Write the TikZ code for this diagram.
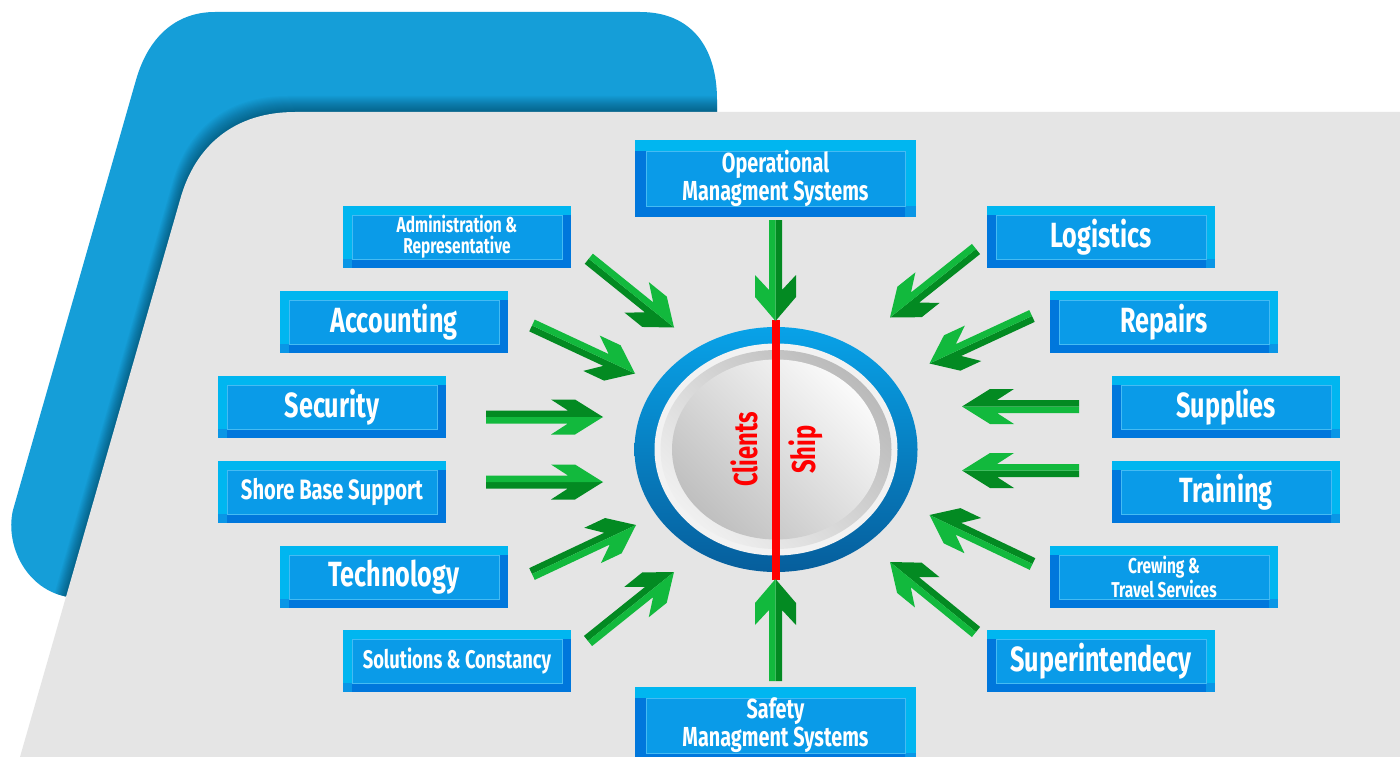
\documentclass[tikz,border=0pt]{standalone}
\usepackage{fontspec}
\newfontfamily\cond{Fira Sans}[FakeStretch=0.72]
\definecolor{bgblue}{HTML}{159ED8}
\definecolor{bggrey}{HTML}{E5E5E5}
\definecolor{boxlight}{HTML}{00B6F0}
\definecolor{boxdark}{HTML}{0077DC}
\definecolor{boxmid}{HTML}{0A96E6}
\definecolor{boxinner}{HTML}{0A9BE8}
\definecolor{boxedge}{HTML}{45BBF3}
\definecolor{glight}{HTML}{12B93D}
\definecolor{gdark}{HTML}{038A22}
\definecolor{ringtop}{HTML}{08A2E8}
\definecolor{ringbot}{HTML}{065E9C}
\definecolor{redline}{HTML}{FF0000}
\tikzset{
  boxtext/.style={text=white, align=center, inner sep=0pt},
  innerpanel/.style={fill=boxinner, draw=boxedge, line width=0.9pt},
  redbar/.style={draw=redline, line width=8pt},
  centertext/.style={text=redline, inner sep=0pt, font=\cond\bfseries\fontsize{33}{36}\selectfont},
}
\newcommand\bigsz{\fontsize{35}{38}\selectfont}
\newcommand\midsz{\fontsize{28}{31}\selectfont}
\newcommand\solsz{\fontsize{25.5}{29}\selectfont}
\newcommand\syssz{\fontsize{27.5}{28}\selectfont}
\newcommand\smallsz{\fontsize{21.5}{21}\selectfont}
% #1 type L/R, #2 x0, #3 y0, #4 x1, #5 y1, #6 band, #7 name, #8 size, #9 text
\newcommand\panel[9]{%
  \fill[boxlight] (#2,#3) rectangle (#4,#5);
  \ifx L#1
    \fill[boxdark] (#2+#6,#5-#6) rectangle (#4,#5);
    \fill[boxdark] (#4-#6,#3+#6) rectangle (#4,#5);
    \fill[boxmid] (#2,#5-#6) rectangle (#2+#6,#5);
  \else
    \fill[boxdark] (#2,#3+#6) rectangle (#2+#6,#5);
    \fill[boxdark] (#2,#5-#6) rectangle (#4-#6,#5);
    \fill[boxmid] (#4-#6,#5-#6) rectangle (#4,#5);
  \fi
  \draw[innerpanel] (#2+#6,#3+#6) rectangle (#4-#6,#5-#6);
  \node[boxtext, font=\cond\bfseries#8] (#7) at ({(#2+#4)/2},{(#3+#5)/2}) {#9};
}
% arrow head geometry: half width, front corner, back corner, notch
\newcommand\gsetD{\def\ghw{19.5}\def\gfr{25}\def\gbk{48}\def\gnt{32}}
\newcommand\gsetH{\def\ghw{17.5}\def\gfr{28}\def\gbk{52}\def\gnt{35}}
\newcommand\gsetV{\def\ghw{20.5}\def\gfr{24}\def\gbk{46}\def\gnt{31}}
% #1 tipx, #2 tipy, #3 tailx, #4 taily, #5 dark side (+1 right, -1 left)
\newcommand\garrow[5]{%
  \pgfmathsetmacro\gang{atan2(-((#2)-(#4)),(#1)-(#3))}%
  \pgfmathsetmacro\glen{veclen((#1)-(#3),(#2)-(#4))}%
  \pgfmathsetmacro\ga{\ghw*#5}%
  \pgfmathsetmacro\gb{6.5*#5}%
  \begin{scope}[shift={(#1,#2)},rotate=\gang]
    \fill[gdark] (0,0) -- (-\gfr,\ga) -- (-\gbk,\ga) -- (-\gnt,\gb) -- (-\glen,\gb) -- (-\glen,0) -- cycle;
    \fill[glight] (0,0) -- (-\gfr,-\ga) -- (-\gbk,-\ga) -- (-\gnt,-\gb) -- (-\glen,-\gb) -- (-\glen,0) -- cycle;
  \end{scope}}
\def\blueshape{(215,12) -- (640,12) .. controls (692,12) and (717,48) .. (717,100) -- (717,420) -- (80,598) .. controls (30,598) and (4,548) .. (13,510) -- (136,80) .. controls (148,38) and (175,12) .. (215,12) -- cycle}
\def\greyshape{(295,112) -- (1400,112) -- (1400,757) -- (20,757) -- (180,200) .. controls (195,145) and (235,112) .. (295,112) -- cycle}
\begin{document}
\begin{tikzpicture}[x=1pt,y=-1pt]
\useasboundingbox (0,0) rectangle (1400,757);
\clip (0,0) rectangle (1400,757);
\fill[white] (0,0) rectangle (1400,757);
% background shapes
\fill[bgblue] \blueshape;
\begin{scope}
  \clip \blueshape;
  \foreach \i in {1,...,16}{
    \fill[black, opacity=0.024, shift={(-0.5*\i,-1.0*\i)}] \greyshape;
  }
\end{scope}
\fill[bggrey] \greyshape;
% panels
\panel{R}{635}{140}{916}{217}{11}{ops}{\syssz}{Operational\\Managment Systems}
\panel{R}{635}{687}{916}{764}{11}{safety}{\syssz}{Safety\\Managment Systems}
\panel{L}{343}{206}{571}{268}{9}{admin}{\smallsz}{Administration \&\\Representative}
\panel{L}{280}{291}{508}{353}{9}{accounting}{\bigsz}{Accounting}
\panel{L}{218}{376}{446}{438}{9}{security}{\bigsz}{Security}
\panel{L}{218}{461}{446}{523}{9}{shore}{\midsz}{Shore Base Support}
\panel{L}{280}{546}{508}{608}{9}{technology}{\bigsz}{Technology}
\panel{L}{343}{630}{571}{692}{9}{solutions}{\solsz}{Solutions \& Constancy}
\panel{R}{987}{206}{1215}{268}{9}{logistics}{\bigsz}{Logistics}
\panel{R}{1050}{291}{1278}{353}{9}{repairs}{\bigsz}{Repairs}
\panel{R}{1112}{376}{1340}{438}{9}{supplies}{\bigsz}{Supplies}
\panel{R}{1112}{461}{1340}{523}{9}{training}{\bigsz}{Training}
\panel{R}{1050}{546}{1278}{608}{9}{crewing}{\smallsz}{Crewing \&\\Travel Services}
\panel{R}{987}{630}{1215}{692}{9}{superint}{\bigsz}{Superintendecy}
% central hub
\shade[top color=ringtop, bottom color=ringbot] (776,449.5) ellipse [x radius=141.5, y radius=122.5];
\fill[white!95!black] (776,449.5) ellipse [x radius=121.5, y radius=106];
\shade[top color=black!27, bottom color=black!6, shading angle=-45] (776,449.5) ellipse [x radius=115.5, y radius=99.5];
\shade[top color=black!2, bottom color=black!25, shading angle=-45] (776,449.5) ellipse [x radius=104, y radius=90];
\coordinate (hubtop) at (776,320);
\coordinate (hubbot) at (776,580);
\draw[redbar] (hubtop) -- (hubbot);
\node[centertext, rotate=90] (clients) at (744,449.5) {Clients};
\node[centertext, rotate=90] (ship) at (806,449.5) {Ship};
% arrows
\gsetD
\garrow{674}{327.5}{588.5}{258.5}{1}
\garrow{635}{373.5}{532}{325.5}{1}
\garrow{636}{525}{532}{574}{-1}
\garrow{674}{572}{588}{641}{-1}
\garrow{890}{317.5}{976}{249}{-1}
\garrow{929.5}{363.5}{1032}{316}{-1}
\garrow{929.5}{515}{1032.5}{564}{1}
\garrow{890}{562}{976}{632}{1}
\gsetH
\garrow{603}{417}{486}{417}{-1}
\garrow{603}{482}{486}{482}{1}
\garrow{962}{406.5}{1079}{406.5}{1}
\garrow{962}{470.5}{1079}{470.5}{-1}
\gsetV
\garrow{775.5}{321}{775.5}{220}{-1}
\garrow{775.5}{579}{775.5}{681}{1}
\end{tikzpicture}
\end{document}
